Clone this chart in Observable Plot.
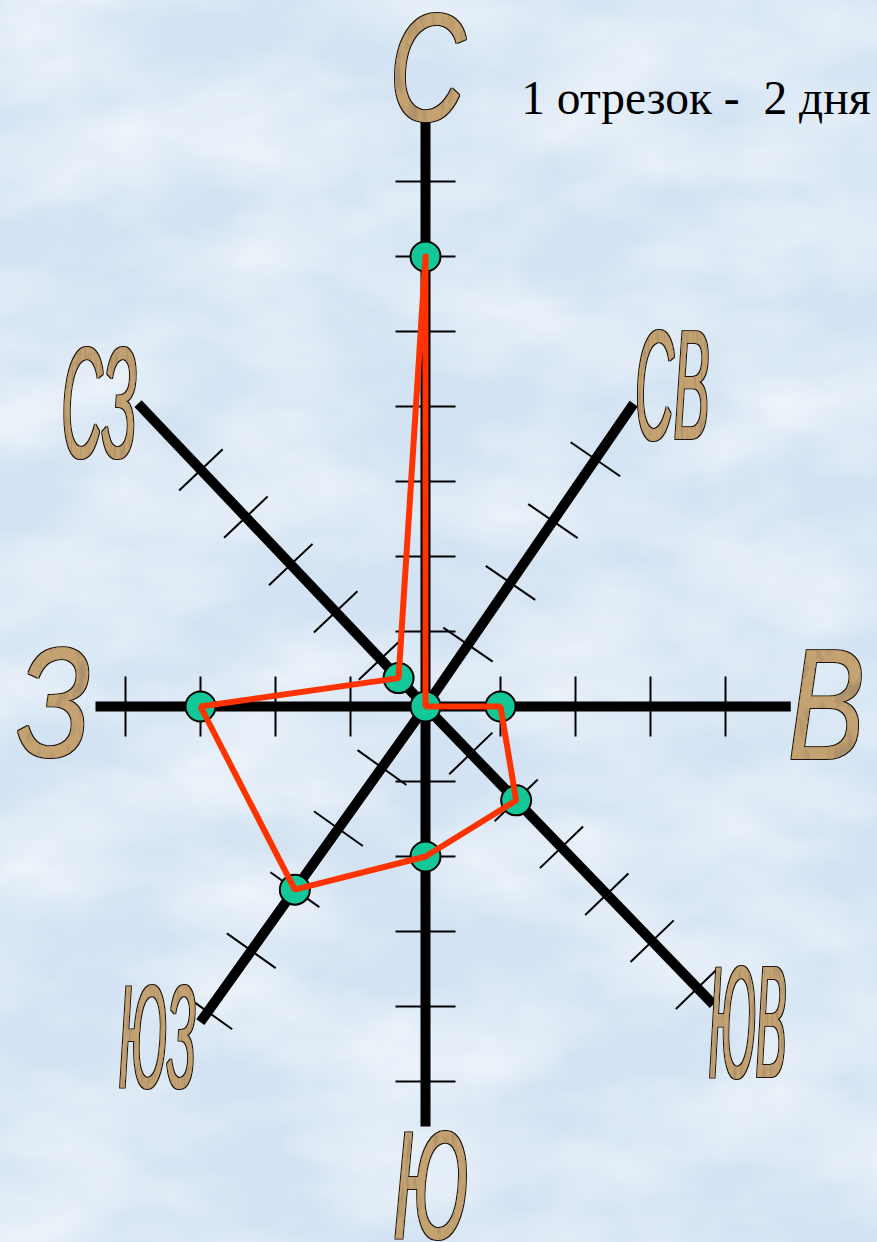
<!DOCTYPE html>
<html>
<head>
<meta charset="utf-8">
<script src="https://cdn.jsdelivr.net/npm/d3@7"></script>
<script src="https://cdn.jsdelivr.net/npm/@observablehq/plot@0.6"></script>
<style>
  html, body { margin: 0; padding: 0; overflow: hidden; background: #d6e5f4; }
  #chart { width: 877px; height: 1242px; }
  #chart svg text { white-space: pre; }
</style>
</head>
<body>
<div id="chart"></div>
<script>
// ---- data ----
const directions = ["С", "СВ", "В", "ЮВ", "Ю", "ЮЗ", "З", "СЗ"];
const values     = [6, 0, 1, 2, 2, 3, 3, 0.6];          // in segments (1 segment = 2 days)
const rayAngles  = [90, 55.5, 0, -46, -90, -125.5, 180, 133.5]; // direction of each ray, degrees
const rayLengths = [7.8, 4.9, 4.87, 6.35, 5.6, 5.17, 4.4, 6.4]; // ray length, in segments
const tickCounts = [7, 4, 4, 6, 5, 5, 4, 5];
const note = "1 отрезок -  2 дня";

// ---- layout ----
const W = 877, H = 1242, U = 75, CX = 425, CY = 706;
const segmentScale = [1, 1, 1, 0.87, 1, 1, 1, 0.87];
const tickHalf = 0.4;
const labelOffsets = [[5, -54], [39, -19], [35, -3], [34, 16], [5, 59], [-43, 15], [-42, -5], [-38, -2]];
const labelBoxes   = [[72, 110], [70, 112], [70, 110], [75, 115], [71, 110], [75, 105], [71, 112], [72, 113]];
const labelFont = {family: "Liberation Sans", style: "italic", size: 120};

const rays = directions.map((d, i) => {
  const a = rayAngles[i] * Math.PI / 180, s = segmentScale[i];
  return {d, i, ux: Math.cos(a) * s, uy: Math.sin(a) * s, nx: -Math.sin(a), ny: Math.cos(a),
          len: rayLengths[i], ticks: tickCounts[i], v: values[i]};
});

const axes = rays.map(r => ({x1: 0, y1: 0, x2: r.ux * r.len, y2: r.uy * r.len}));
const ticks = rays.flatMap(r => d3.range(1, r.ticks + 1).map(k => ({
  x1: r.ux * k - r.nx * tickHalf, y1: r.uy * k - r.ny * tickHalf,
  x2: r.ux * k + r.nx * tickHalf, y2: r.uy * k + r.ny * tickHalf
})));
const points = rays.map(r => ({d: r.d, x: r.ux * r.v, y: r.uy * r.v}));
const polygon = [...points, points[0]];
const labels = rays.map(r => ({
  d: r.d,
  x: r.ux * r.len + labelOffsets[r.i][0] / U,
  y: r.uy * r.len - labelOffsets[r.i][1] / U
}));

const chart = Plot.plot({
  width: W, height: H, margin: 0,
  x: {domain: [-CX / U, (W - CX) / U], range: [0, W], axis: null},
  y: {domain: [-(H - CY) / U, CY / U], range: [H, 0], axis: null},
  style: {background: "transparent", overflow: "visible"},
  marks: [
    Plot.link(ticks, {x1: "x1", y1: "y1", x2: "x2", y2: "y2", stroke: "#000", strokeWidth: 2}),
    Plot.link(axes, {x1: "x1", y1: "y1", x2: "x2", y2: "y2", stroke: "#000", strokeWidth: 10}),
    Plot.dot(points, {x: "x", y: "y", r: 15, fill: "#12c898", stroke: "#000", strokeWidth: 2}),
    Plot.line(polygon, {x: "x", y: "y", stroke: "#ff3300", strokeWidth: 6, strokeLinejoin: "miter", curve: "linear"}),
    Plot.text(labels, {x: "x", y: "y", text: "d", fontFamily: labelFont.family, fontStyle: labelFont.style,
      fontSize: labelFont.size, fill: "#c5a271"}),
    Plot.text([note], {frameAnchor: "top-right", text: d => d, textAnchor: "end", dx: -7, dy: 80,
      fontFamily: "Liberation Serif", fontSize: 47.5, fill: "#000"})
  ]
});

document.getElementById("chart").appendChild(chart);

// background texture
const ns = "http://www.w3.org/2000/svg";
const defs = document.createElementNS(ns, "defs");
let defsHTML = `
  <filter id="clouds" x="0" y="0" width="${W}" height="${H}" filterUnits="userSpaceOnUse">
    <feTurbulence type="fractalNoise" baseFrequency="0.006 0.011" numOctaves="4" seed="11" result="n"/>
    <feColorMatrix in="n" type="matrix" values="0 0 0 0 1  0 0 0 0 1  0 0 0 0 1  1.1 0 0 0 -0.35"/>
  </filter>`;

// stretch direction labels into tall narrow boxes (WordArt-like), using exact glyph bounds
const ctx = document.createElement("canvas").getContext("2d");
ctx.font = `${labelFont.style} ${labelFont.size}px "${labelFont.family}"`;
const labelSet = new Map(directions.map((d, i) => [d, i]));
const labelEls = [];
chart.querySelectorAll("text").forEach(t => {
  const i = labelSet.get(t.textContent);
  if (i === undefined) return;
  const m = ctx.measureText(t.textContent);
  const start = -m.width / 2;
  const baseline = 0.32 * labelFont.size;
  const gl = start - m.actualBoundingBoxLeft, gr = start + m.actualBoundingBoxRight;
  const gt = baseline - m.actualBoundingBoxAscent, gb = baseline + m.actualBoundingBoxDescent;
  const [bw, bh] = labelBoxes[i];
  const sx = bw / (gr - gl), sy = bh / (gb - gt);
  const cx = (gl + gr) / 2, cy = (gt + gb) / 2;
  const tr = t.getAttribute("transform") || "";
  t.setAttribute("transform", `${tr} scale(${sx},${sy}) translate(${-cx},${-cy})`);
  const ow = 1.1;
  defsHTML += `
  <filter id="lab${i}" x="-15%" y="-15%" width="130%" height="130%">
    <feMorphology in="SourceAlpha" operator="dilate" radius="${ow / sx} ${ow / sy}" result="dil"/>
    <feFlood flood-color="#1b1208" result="blk"/>
    <feComposite in="blk" in2="dil" operator="in" result="outline"/>
    <feTurbulence type="fractalNoise" baseFrequency="${0.09 / sx} ${0.06 / sy}" numOctaves="3" seed="${i + 3}" result="noise"/>
    <feColorMatrix in="noise" type="matrix" values="0 0 0 0 0.40  0 0 0 0 0.28  0 0 0 0 0.15  -4 0 0 0 2.05" result="dark"/>
    <feComposite in="dark" in2="SourceAlpha" operator="in" result="grain"/>
    <feMerge><feMergeNode in="outline"/><feMergeNode in="SourceGraphic"/><feMergeNode in="grain"/></feMerge>
  </filter>`;
  labelEls.push([t, i]);
});
defs.innerHTML = defsHTML;
chart.insertBefore(defs, chart.firstChild);
labelEls.forEach(([t, i]) => t.setAttribute("filter", `url(#lab${i})`));

const bg = document.createElementNS(ns, "rect");
bg.setAttribute("width", W); bg.setAttribute("height", H); bg.setAttribute("fill", "#d3e3f3");
const tex = document.createElementNS(ns, "rect");
tex.setAttribute("width", W); tex.setAttribute("height", H); tex.setAttribute("filter", "url(#clouds)");
chart.insertBefore(tex, defs.nextSibling);
chart.insertBefore(bg, tex);
</script>
</body>
</html>
